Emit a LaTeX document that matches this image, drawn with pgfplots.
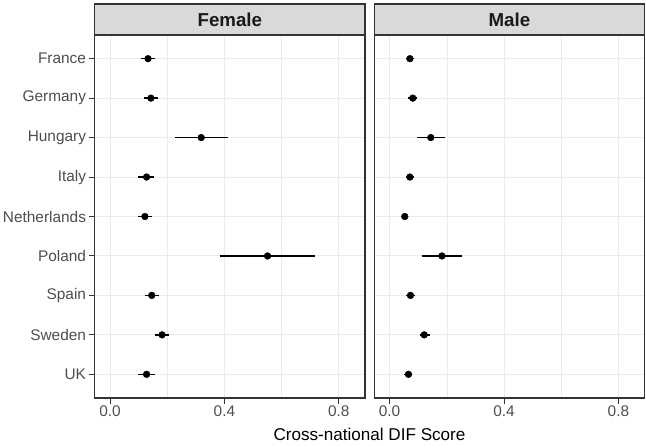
\documentclass[border=0pt]{standalone}
\usepackage{fontspec}
\setmainfont{Liberation Sans}
\usepackage{pgfplots}
\usepackage{pgfplotstable}
\pgfplotsset{compat=1.18}
\definecolor{grey10}{HTML}{1A1A1A}
\definecolor{grey20}{HTML}{333333}
\definecolor{grey30}{HTML}{4D4D4D}
\definecolor{grey85}{HTML}{D9D9D9}
\definecolor{grey92}{HTML}{EBEBEB}

% y: 1=France ... 9=UK ; x = DIF score ; em/ep = distance to lower/upper bound
\pgfplotstableread{
y x em ep
1 0.133 0.025 0.024
2 0.143 0.023 0.025
3 0.319 0.092 0.092
4 0.128 0.029 0.027
5 0.122 0.025 0.026
6 0.551 0.166 0.167
7 0.146 0.024 0.024
8 0.182 0.025 0.025
9 0.128 0.029 0.028
}\femaledata

\pgfplotstableread{
y x em ep
1 0.071 0.015 0.014
2 0.081 0.015 0.014
3 0.144 0.049 0.049
4 0.071 0.013 0.013
5 0.053 0.005 0.005
6 0.183 0.069 0.069
7 0.073 0.016 0.017
8 0.121 0.016 0.019
9 0.066 0.014 0.014
}\maledata

\pgfplotsset{
  panel/.style={
    scale only axis, width=270.3pt, height=363pt,
    xmin=-0.0535, xmax=0.8916, ymin=0.4, ymax=9.6, y dir=reverse,
    xtick={0,0.4,0.8}, xticklabels={0.0,0.4,0.8}, minor xtick={0.2,0.6},
    ytick={1,2,3,4,5,6,7,8,9},
    xmajorgrids, ymajorgrids, xminorgrids,
    major grid style={draw=grey92, line width=1pt},
    minor grid style={draw=grey92, line width=0.6pt},
    axis line style={draw=grey20, line width=1.1pt},
    tick align=outside, major tick length=5.5pt, minor tick length=0pt,
    xtick pos=bottom, ytick pos=left,
    tick style={draw=grey20, line width=1pt},
    ticklabel style={font=\fontsize{15.4}{18}\selectfont, text=grey30},
    xticklabel style={inner sep=2pt},
    yticklabel style={inner sep=1.5pt, xshift=-1.5pt},
    /pgf/number format/assume math mode=true,
    clip=false,
  },
  dif/.style={
    only marks, mark=*, mark size=3.4pt, black, mark options={draw=black, fill=black},
    error bars/.cd, x dir=both, x explicit, error mark=none,
    error bar style={line width=1.4pt, black},
  },
}

\begin{document}
\begin{tikzpicture}
\begin{axis}[panel, name=female, at={(94.7pt,47pt)}, anchor=south west,
  yticklabels={France,Germany,Hungary,Italy,Netherlands,Poland,Spain,Sweden,UK}]
  \addplot+[dif] table[x=x, y=y, x error minus=em, x error plus=ep] {\femaledata};
\end{axis}
\begin{axis}[panel, name=male, at={(374.3pt,47pt)}, anchor=south west,
  yticklabels={}, ytick style={draw=none}]
  \addplot+[dif] table[x=x, y=y, x error minus=em, x error plus=ep] {\maledata};
\end{axis}
\draw[draw=grey20, fill=grey85, line width=1.1pt] (female.north west) rectangle ([yshift=31pt]female.north east);
\node[font=\fontsize{18.7}{22}\selectfont\bfseries, text=grey10] at ([yshift=15.5pt]female.north) {Female};
\draw[draw=grey20, fill=grey85, line width=1.1pt] (male.north west) rectangle ([yshift=31pt]male.north east);
\node[font=\fontsize{18.7}{22}\selectfont\bfseries, text=grey10] at ([yshift=15.5pt]male.north) {Male};
\node[anchor=base, font=\fontsize{17.1}{20}\selectfont, text=black] at (369.5pt,5pt) {Cross-national DIF Score};
\pgfresetboundingbox
\useasboundingbox (0,0) rectangle (646pt,445pt);
\end{tikzpicture}
\end{document}
